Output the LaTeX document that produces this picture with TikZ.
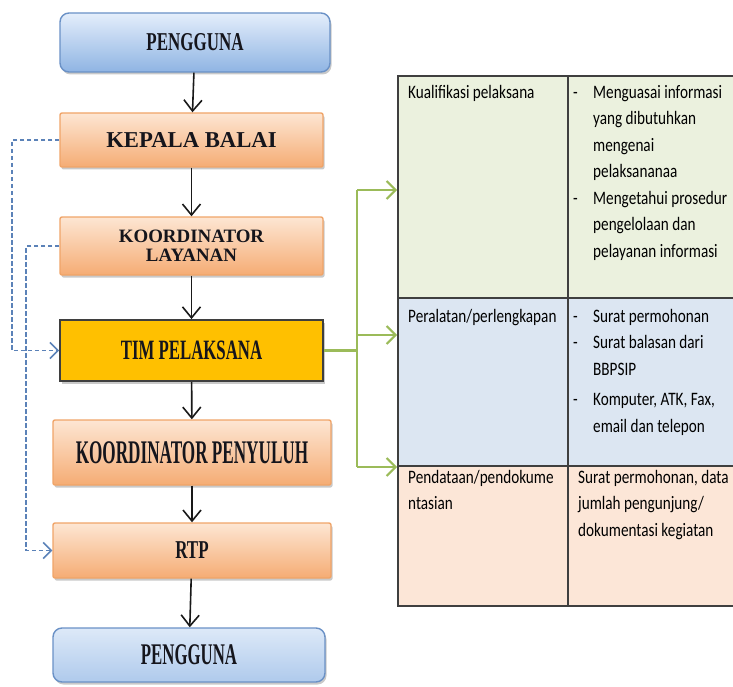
\documentclass[tikz,border=0pt]{standalone}
\usepackage{fontspec}
\usepackage{graphicx}
\setmainfont{Liberation Serif}
\newfontfamily\cellfont[FakeStretch=0.8]{Carlito}
\usetikzlibrary{arrows.meta,shadows}

% box label: size, horizontal squeeze, text
\newcommand\lbl[3]{{\fontsize{#1}{#1}\selectfont\scalebox{#2}[1]{#3}}}

\definecolor{usertop}{HTML}{E4EEFB}
\definecolor{userbot}{HTML}{8FB4E3}
\definecolor{userline}{HTML}{6A91C6}
\definecolor{user2top}{HTML}{DDE9F8}
\definecolor{user2bot}{HTML}{AFCAEC}
\definecolor{stafftop}{HTML}{FDE6D3}
\definecolor{staffmid}{HTML}{FAC9A2}
\definecolor{staffbot}{HTML}{F5AC74}
\definecolor{staffline}{HTML}{F0A468}
\definecolor{teamfill}{HTML}{FFC000}
\definecolor{boxtext}{HTML}{15151C}
\definecolor{rowgreen}{HTML}{EBF1DE}
\definecolor{rowblue}{HTML}{DCE6F2}
\definecolor{rowpeach}{HTML}{FCE6D7}
\definecolor{tableline}{HTML}{3F3F3F}
\definecolor{branchgreen}{HTML}{9BBB59}
\definecolor{dashblue}{HTML}{5B82B8}

\tikzset{
  box/.style={line width=1.4pt, inner sep=0pt, font=\bfseries, text=boxtext,
    drop shadow={shadow xshift=1.5pt, shadow yshift=-2.5pt, opacity=0.3, fill=black!70}},
  userbox/.style={box, rounded corners=9pt, draw=userline, top color=usertop, bottom color=userbot},
  userboxlight/.style={box, rounded corners=9pt, draw=userline, top color=user2top, bottom color=user2bot},
  staffbox/.style={box, rounded corners=2pt, draw=staffline, top color=stafftop, middle color=staffmid, bottom color=staffbot},
  teambox/.style={box, line width=1.8pt, draw=tableline, fill=teamfill},
  flow/.style={-{Straight Barb[length=11pt,width=18pt,line width=1.6pt]}, line width=1.6pt, black!90},
  feedback/.style={-{Straight Barb[length=8pt,width=16pt,line width=1.6pt]}, line width=1.7pt, dashblue, dash pattern=on 4.5pt off 2.5pt},
  branch/.style={line width=2.3pt, branchgreen},
  brancharrow/.style={branch, -{Straight Barb[length=9pt,width=18pt,line width=2pt]}},
  cell/.style={draw=tableline, line width=1.6pt, anchor=north west, inner sep=0pt},
  celltext/.style={anchor=north west, inner sep=0pt, align=left, text=black,
    font=\cellfont\fontsize{19}{26.5}\selectfont},
}

\begin{document}
\begin{tikzpicture}[x=1pt,y=-1pt]
\clip (0,0) rectangle (733,687);

% ---------- table of requirements ----------
\node[cell, fill=rowgreen, minimum width=170pt, minimum height=222pt] (c1l) at (397,75) {};
\node[cell, fill=rowgreen, minimum width=180pt, minimum height=222pt] (c1r) at (567,75) {};
\node[cell, fill=rowblue,  minimum width=170pt, minimum height=168pt] (c2l) at (397,297) {};
\node[cell, fill=rowblue,  minimum width=180pt, minimum height=168pt] (c2r) at (567,297) {};
\node[cell, fill=rowpeach, minimum width=170pt, minimum height=140pt] (c3l) at (397,465) {};
\node[cell, fill=rowpeach, minimum width=180pt, minimum height=140pt] (c3r) at (567,465) {};

\node[celltext] (t1l) at (408,85) {Kualifikasi pelaksana};
\node[celltext] (t1r) at (573,85) {\makebox[20pt][l]{-}Menguasai informasi\\
  \hspace*{20pt}yang dibutuhkan\\
  \hspace*{20pt}mengenai\\
  \hspace*{20pt}pelaksananaa\\
  \makebox[20pt][l]{-}Mengetahui prosedur\\
  \hspace*{20pt}pengelolaan dan\\
  \hspace*{20pt}pelayanan informasi};

\node[celltext] (t2l) at (408,309) {Peralatan/perlengkapan};
\node[celltext] (t2r) at (573,309) {\makebox[20pt][l]{-}Surat permohonan\\
  \makebox[20pt][l]{-}Surat balasan dari\\
  \hspace*{20pt}BBPSIP\\[4pt]
  \makebox[20pt][l]{-}Komputer, ATK, Fax,\\
  \hspace*{20pt}email dan telepon};

\node[celltext] (t3l) at (408,470) {Pendataan/pendokume\\ntasian};
\node[celltext] (t3r) at (578,470) {Surat permohonan, data\\
  jumlah pengunjung/\\
  dokumentasi kegiatan};

% ---------- service flow ----------
\node[userbox, minimum width=270pt, minimum height=59pt] (p1) at (195,42.5)
  {\lbl{25.7}{0.66}{PENGGUNA}};
\node[staffbox, minimum width=263pt, minimum height=54pt] (kb) at (191.5,140)
  {\lbl{22.7}{1}{KEPALA BALAI}};
\node[staffbox, minimum width=263pt, minimum height=58pt, align=center,
      font=\bfseries\fontsize{18.9}{19}\selectfont] (kl) at (191.5,246)
  {KOORDINATOR\\ LAYANAN};
\node[teambox, minimum width=263pt, minimum height=61pt] (tim) at (191.5,350.5)
  {\lbl{28}{0.6}{TIM PELAKSANA}};
\node[staffbox, minimum width=278pt, minimum height=65pt] (kp) at (192,452.5)
  {\lbl{33}{0.52}{KOORDINATOR PENYULUH}};
\node[staffbox, minimum width=278pt, minimum height=55pt] (rtp) at (192,550.5)
  {\lbl{25.7}{0.66}{RTP}};
\node[userboxlight, minimum width=272pt, minimum height=54pt] (p2) at (189,655)
  {\lbl{30}{0.56}{PENGGUNA}};

\draw[flow] (p1) -- (kb);
\draw[flow] (kb) -- (kl);
\draw[flow] (kl) -- (tim);
\draw[flow] (tim) -- (kp);
\draw[flow] (kp) -- (rtp);
\draw[flow] (rtp) -- (p2);

% ---------- dashed delegation lines ----------
\draw[feedback] (kb.west) -- ++(-47,0) |- (tim.west);
\draw[feedback] (kl.west) -- ++(-33,0) |- (rtp.west);

% ---------- branches to the table ----------
\coordinate (g1) at (357,190);
\coordinate (g2) at (357,335);
\coordinate (g3) at (357,467);
\draw[branch] (tim.east) -- (tim.east -| g1);
\draw[branch] (g1) -- (g3);
\draw[brancharrow] (g1) -- (g1 -| c1l.west);
\draw[brancharrow] (g2) -- (g2 -| c2l.west);
\draw[brancharrow] (g3) -- (g3 -| c3l.west);
\end{tikzpicture}
\end{document}
